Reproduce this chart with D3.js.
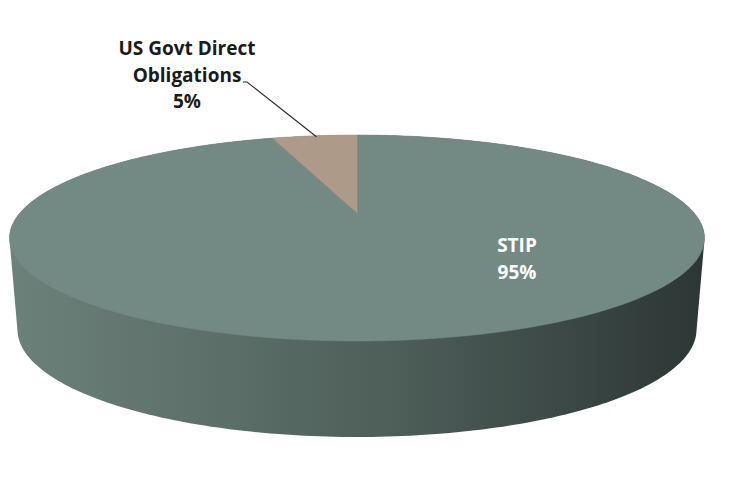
<!DOCTYPE html>
<html><head><meta charset="utf-8">
<script src="https://cdn.jsdelivr.net/npm/d3@7"></script>
<style>html,body{margin:0;padding:0;background:#fff;}svg{display:block;}</style>
</head><body>
<svg id="chart" width="732" height="481"></svg>
<script>
const categories = ["STIP", "US Govt Direct Obligations"];
const values = [95, 5];
const labelLines = [["STIP", "95%"], ["US Govt Direct", "Obligations", "5%"]];
const colors = ["#738a84", "#ad9a89"];

const svg = d3.select("#chart");

// perspective projection of a unit disc (X right, Z far(-1)..near(+1))
const cx = 357, k = 337.1, pa = 45.23, pb = 213, pc = -0.2427;
function projTop(X, Z) {
  const w = 1 + pc * Z;
  return [cx + k * X / w, (pa * Z + pb) / w];
}
function projBottom(X, Z) {
  const t = projTop(X, Z);
  return [cx + (t[0] - cx) * 0.977, t[1] + 90 + 6 * Z];
}
const pt = (f, a) => f(Math.sin(a), -Math.cos(a));

const pie = d3.pie().sort(null).startAngle(0).endAngle(2 * Math.PI);
const arcs = pie(values);

const defs = svg.append("defs");
const grad = defs.append("linearGradient").attr("id", "sideGrad")
  .attr("gradientUnits", "userSpaceOnUse").attr("x1", 9).attr("x2", 705).attr("y1", 0).attr("y2", 0);
[[0, "#6c8179"], [0.3, "#5c6f69"], [0.55, "#4e5e59"], [0.8, "#3b4845"], [1, "#2c3634"]]
  .forEach(s => grad.append("stop").attr("offset", s[0]).attr("stop-color", s[1]));

// side: hull of top and bottom rims
const N = 360;
const rim = [];
for (let i = 0; i < N; i++) {
  const a = i / N * 2 * Math.PI;
  rim.push(pt(projTop, a));
  rim.push(pt(projBottom, a));
}
const hull = d3.polygonHull(rim);
svg.append("path").attr("d", "M" + hull.map(p => p.join(",")).join("L") + "Z")
  .attr("fill", "url(#sideGrad)");

// top face slices
const line = d3.line();
arcs.forEach((d, i) => {
  const pts = [projTop(0, 0)];
  const n = Math.max(4, Math.ceil((d.endAngle - d.startAngle) / (2 * Math.PI) * 360));
  for (let j = 0; j <= n; j++) {
    const a = d.startAngle + (d.endAngle - d.startAngle) * j / n;
    pts.push(pt(projTop, a));
  }
  svg.append("path").attr("d", line(pts) + "Z").attr("fill", colors[i])
    .attr("stroke", colors[i]).attr("stroke-width", 0.5);
});

// labels
const font = "'Open Sans', Lato, sans-serif";
const stip = svg.append("text").attr("font-family", font).attr("font-weight", "bold")
  .attr("font-size", 19).attr("fill", "#ffffff").attr("text-anchor", "middle");
labelLines[0].forEach((t, j) => stip.append("tspan").attr("x", 517).attr("y", 252 + j * 27).text(t));

const us = svg.append("text").attr("font-family", font).attr("font-weight", "bold")
  .attr("font-size", 19).attr("fill", "#1a1a1a").attr("text-anchor", "middle");
labelLines[1].forEach((t, j) => us.append("tspan").attr("x", 187).attr("y", 55 + j * 26.5).text(t));

// leader line to the small slice
const mid = (arcs[1].startAngle + arcs[1].endAngle) / 2;
const target = pt(projTop, mid);
svg.append("path").attr("d", line([[243, 82], [247, 82], [target[0] + 2, target[1] + 1]]))
  .attr("fill", "none").attr("stroke", "#2a2a2a").attr("stroke-width", 1.1);
</script>
</body></html>
